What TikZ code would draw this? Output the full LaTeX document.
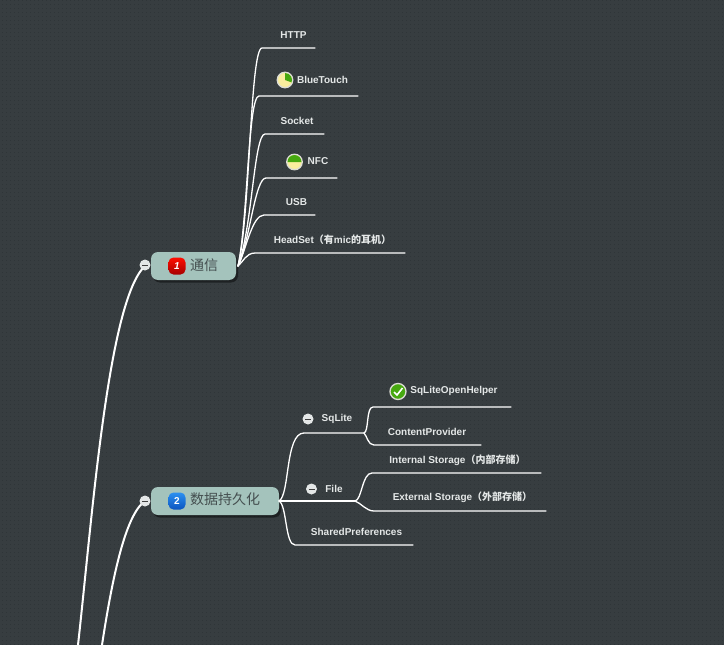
\documentclass[tikz,border=0pt]{standalone}
\usepackage{fontspec}
\setmainfont{Liberation Sans}
\newfontfamily\cjk{Noto Sans CJK SC}
\definecolor{bgc}{HTML}{373D40}
\definecolor{dotc}{HTML}{2F3538}
\definecolor{topicc}{HTML}{A4C3BC}
\definecolor{topictx}{HTML}{454F50}
\definecolor{leafc}{HTML}{E4E7E7}
\definecolor{pieg}{HTML}{46A80F}
\definecolor{piey}{HTML}{FAEE9E}
\definecolor{ringc}{HTML}{DDDDD5}
\definecolor{blueA}{HTML}{2C90F0}
\definecolor{blueB}{HTML}{0B55C0}
\usetikzlibrary{shadows,calc}
\tikzset{
 x=1pt,y=-1pt,
 link/.style={draw=white,line width=1.3pt,line cap=round},
 rootlink/.style={draw=white,line width=2pt,line cap=round},
 topic/.style={fill=topicc,rounded corners=7pt,minimum height=28pt,inner sep=0pt,
   drop shadow={shadow xshift=2pt,shadow yshift=-2.5pt,fill=black,opacity=.45}},
 toptext/.style={text=topictx,font=\fontsize{14}{14}\selectfont\cjk,inner sep=0pt,anchor=west},
 leaf/.style={text=leafc,font=\fontsize{10}{12}\selectfont\bfseries,inner sep=0pt},
 fold/.style={circle,fill=#1,minimum size=11pt,inner sep=0pt},
 badge/.style={rounded corners=5pt,minimum size=17pt,inner sep=0pt,text=white,font=\fontsize{10}{10}\selectfont\bfseries},
 task/.style={circle,draw=ringc,line width=1.3pt,minimum size=15.5pt,inner sep=0pt},
}
\begin{document}
\begin{tikzpicture}
\useasboundingbox (0,0) rectangle (724,645);
\fill[bgc] (0,0) rectangle (724,645);
\foreach \i in {0,...,180}{\draw[dotc,line width=.8pt,dash pattern=on .8pt off 3.2pt] (\i*4+2,0) -- (\i*4+2,645);}
% topics
\node[topic,minimum width=85pt] (t1) at (193.5,266) {};
\node[topic,minimum width=128pt] (t2) at (215,501) {};
\node[badge,top color=red!90!orange,bottom color=red!65!black] (b1) at (177,266) {\itshape 1};
\node[badge,top color=blueA,bottom color=blueB] (b2) at (177,501) {2};
\node[toptext] (tx1) at (190,265) {通信};
\node[toptext] (tx2) at (190,499) {数据持久化};
% free ends
\coordinate (root) at (78,645);
\coordinate (root2) at (102,645);
\coordinate (o1) at (238,266);
\coordinate (o2) at (279,501);
\coordinate (http) at (315,48);
\coordinate (blue) at (358,96);
\coordinate (sock) at (324,134);
\coordinate (nfc) at (337,178);
\coordinate (usb) at (315,215);
\coordinate (head) at (405,253);
\coordinate (sql) at (364,433);
\coordinate (file) at (355,501);
\coordinate (shp) at (413,545);
\coordinate (oph) at (511,407);
\coordinate (cp) at (481,445);
\coordinate (ins) at (541,473);
\coordinate (ext) at (546,511);
% root connectors
\draw[rootlink] (root) .. controls (92,520) and (108,300) .. (145,266);
\draw[rootlink] (root2) .. controls (112,580) and (125,515) .. (145,501);
% topic 1
\draw[link] (o1) .. controls (250,220) and (250,48) .. (262,48) -- (http);
\draw[link] (o1) .. controls (248,220) and (248,96) .. (259,96) -- (blue);
\draw[link] (o1) .. controls (252,230) and (254,134) .. (265,134) -- (sock);
\draw[link] (o1) .. controls (250,240) and (255,178) .. (266,178) -- (nfc);
\draw[link] (o1) .. controls (246,250) and (252,215) .. (264,215) -- (usb);
\draw[link] (o1) .. controls (243,262) and (246,253) .. (255,253) -- (head);
% topic 2
\draw[link] (o2) .. controls (290,495) and (285,433) .. (304,433) -- (sql);
\draw[link] (o2) -- (file);
\draw[link] (o2) .. controls (287,505) and (285,545) .. (295,545) -- (shp);
\draw[link] (sql) .. controls (369,432) and (366,407) .. (373,407) -- (oph);
\draw[link] (sql) .. controls (367,436) and (368,445) .. (374,445) -- (cp);
\draw[link] (file) .. controls (362,500) and (362,473) .. (372,473) -- (ins);
\draw[link] (file) .. controls (361,503) and (366,511) .. (374,511) -- (ext);
% fold buttons
\node[fold=leafc] (f1) at (145,265) {};
\node[fold=leafc] (f2) at (145,501) {};
\node[fold=leafc] (f3) at (308,419) {};
\node[fold=leafc] (f4) at (311.5,489) {};
\foreach \f in {f1,f2,f3,f4}{\draw[black!75,line width=1pt] ($(\f)+(-3,0)$) -- ($(\f)+(3,0)$);}
% labels
\node[leaf] (lhttp) at (293.5,35) {HTTP};
\node[leaf] (lblue) at (322.5,79.5) {BlueTouch};
\node[leaf] (lsock) at (297,121) {Socket};
\node[leaf] (lnfc) at (318,161) {NFC};
\node[leaf] (lusb) at (296.5,202) {USB};
\node[leaf] (lhead) at (330.5,240) {\hspace{4pt}HeadSet{\cjk（有}mic{\cjk 的耳机）}};
\node[leaf] (lsql) at (337,419) {SqLite};
\node[leaf] (lfile) at (334,489) {File};
\node[leaf] (loph) at (454,391) {SqLiteOpenHelper};
\node[leaf] (lcp) at (427,432) {ContentProvider};
\node[leaf] (lins) at (457.5,460) {Internal Storage{\cjk（内部存储）}};
\node[leaf] (lext) at (462.5,497) {External Storage{\cjk（外部存储）}};
\node[leaf] (lshp) at (356.5,532) {SharedPreferences};
% task icons
\node[task,fill=piey] (i1) at (285,80) {};
\fill[pieg] (i1.center) -- (285,73) arc (90:-20:7pt) -- cycle;
\node[task,fill=piey] (i2) at (294.5,162) {};
\fill[pieg] (287.5,162) arc (180:0:7pt) -- cycle;
\node[task,fill=pieg,minimum size=16pt] (i3) at (398,391.5) {};
\draw[white,line width=1.6pt] (394,392) -- (397,395) -- (402.5,388);
\end{tikzpicture}
\end{document}
